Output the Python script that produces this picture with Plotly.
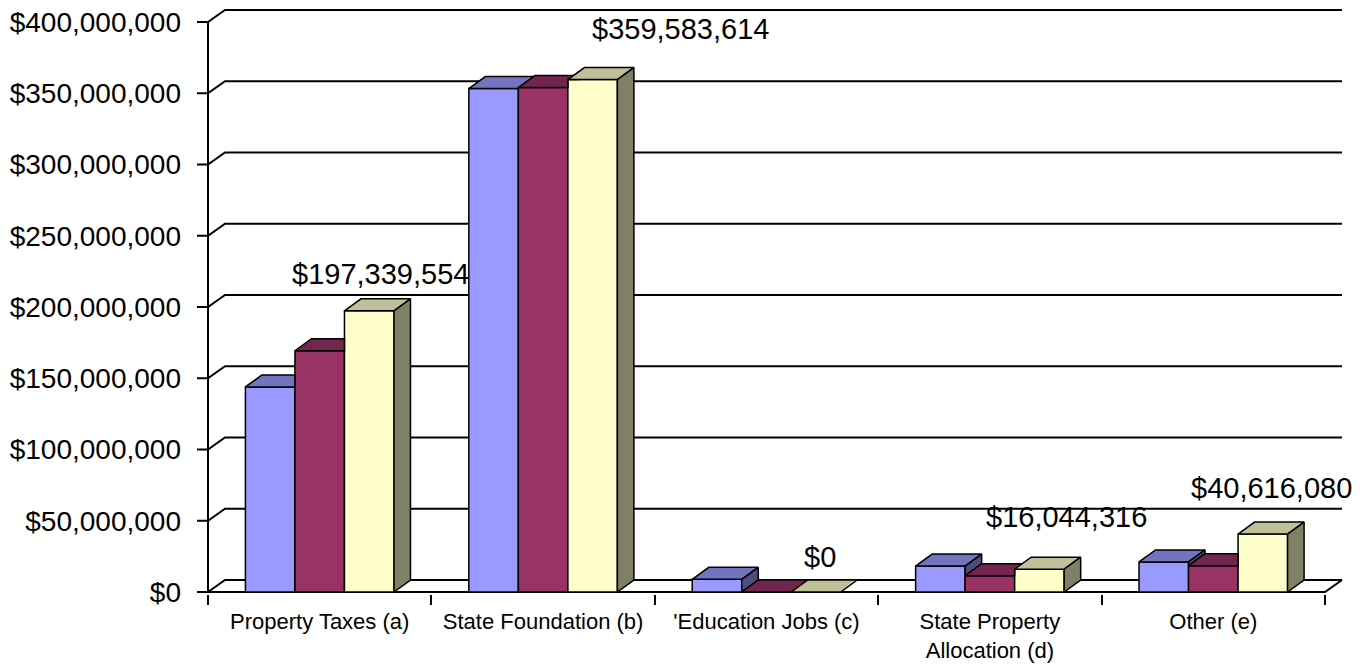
import plotly.graph_objects as go

# ---------------- data ----------------
categories = ["Property Taxes (a)", "State Foundation (b)", "'Education Jobs (c)",
              "State Property<br>Allocation (d)", "Other (e)"]
series_1 = [143_900_000, 353_300_000, 8_900_000, 18_200_000, 21_100_000]
series_2 = [169_300_000, 354_000_000, 0, 11_400_000, 18_500_000]
series_3 = [197_339_554, 359_583_614, 0, 16_044_316, 40_616_080]
y_tick_values = [0, 50_000_000, 100_000_000, 150_000_000, 200_000_000,
                 250_000_000, 300_000_000, 350_000_000, 400_000_000]
y_tick_labels = ["$0", "$50,000,000", "$100,000,000", "$150,000,000", "$200,000,000",
                 "$250,000,000", "$300,000,000", "$350,000,000", "$400,000,000"]

# ---------------- style ----------------
FONT = "Liberation Sans, Arial, sans-serif"
front_colors = ["#9999FF", "#993366", "#FFFFCC"]
top_colors = ["#7373BF", "#73264D", "#BFBF99"]
side_colors = ["#4D4D80", "#4D1933", "#808066"]
label_dx = [11, 88, 4, 27, 9]      # px shifts of the data labels
label_dy = [37, 51, 35, 52, 46]

W, H = 1370, 664
L, R, T, B = 196, 1346, 8, 594          # plot area in px
PX_CAT = 223.4                          # px per category
PX_VAL = 570 / 400_000_000              # px per dollar
x0 = -0.5 - (208 - L) / PX_CAT
x1 = x0 + (R - L) / PX_CAT
y0 = -(B - 592) / PX_VAL
y1 = y0 + (B - T) / PX_VAL

BDX, BDY = 16.5 / PX_CAT, 12 / PX_VAL   # bar depth
WDX, WDY = 17 / PX_CAT, 12 / PX_VAL     # wall depth
TICK = 11 / PX_CAT
BARGAP = 0.335
n = len(categories)
nser = 3
bw = (1 - BARGAP) / nser

series = [series_1, series_2, series_3]

fig = go.Figure()

# bar fronts
for j, s in enumerate(series):
    fig.add_trace(go.Bar(
        x=list(range(n)), y=s,
        marker=dict(color=front_colors[j], line=dict(color="black", width=1.5)),
        showlegend=False, hoverinfo="skip"))

# 3D top and side faces (visible parts only)
for j, s in enumerate(series):
    tx, ty, sx, sy = [], [], [], []
    for i in range(n):
        l = i - (1 - BARGAP) / 2 + j * bw
        r = l + bw
        t = s[i]
        tn = series[j + 1][i] if j + 1 < nser else 0
        # top face
        k = min(max((tn - t) / BDY, 0), 1) if j + 1 < nser else 0
        if k >= 1:
            pts = [(l, t), (r, t), (r, t + BDY), (l + BDX, t + BDY), (l, t)]
        elif k > 0:
            pts = [(l, t), (r, t), (r, t + k * BDY), (r + k * BDX, t + k * BDY),
                   (r + BDX, t + BDY), (l + BDX, t + BDY), (l, t)]
        else:
            pts = [(l, t), (r, t), (r + BDX, t + BDY), (l + BDX, t + BDY), (l, t)]
        for p in pts:
            tx.append(p[0]); ty.append(p[1])
        tx.append(None); ty.append(None)
        # side face
        if t > tn:
            pts = [(r, tn), (r + BDX, tn + BDY), (r + BDX, t + BDY), (r, t), (r, tn)]
            for p in pts:
                sx.append(p[0]); sy.append(p[1])
            sx.append(None); sy.append(None)
    fig.add_trace(go.Scatter(x=tx, y=ty, mode="lines", fill="toself",
                             fillcolor=top_colors[j], line=dict(color="black", width=1.5),
                             showlegend=False, hoverinfo="skip"))
    if sx:
        fig.add_trace(go.Scatter(x=sx, y=sy, mode="lines", fill="toself",
                                 fillcolor=side_colors[j], line=dict(color="black", width=1.5),
                                 showlegend=False, hoverinfo="skip"))

# walls / gridlines / floor
shapes = []
for v in y_tick_values:
    shapes.append(dict(type="path", xref="x", yref="y", layer="below",
                       path=f"M {-0.5 - TICK},{v} L -0.5,{v} L {-0.5 + WDX},{v + WDY} L {n - 0.5 + WDX},{v + WDY}",
                       line=dict(color="black", width=2)))
shapes.append(dict(type="path", xref="x", yref="y", layer="below",
                   path=f"M -0.5,0 L -0.5,{y_tick_values[-1]}",
                   line=dict(color="black", width=2)))
shapes.append(dict(type="path", xref="x", yref="y", layer="below",
                   path=f"M -0.5,0 L {n - 0.5},0 L {n - 0.5 + WDX},{WDY}",
                   line=dict(color="black", width=2)))

# data labels for third series
ycenter = -(1 - BARGAP) / 2 + 2.5 * bw
annotations = []
for i, v in enumerate(series_3):
    annotations.append(dict(x=i + ycenter, y=v, xref="x", yref="y",
                            text=f"${v:,.0f}", showarrow=False,
                            xshift=label_dx[i], yshift=label_dy[i],
                            xanchor="center", yanchor="middle",
                            font=dict(family=FONT, size=29, color="black")))

fig.update_layout(
    width=W, height=H,
    margin=dict(l=L, r=W - R, t=T, b=H - B, pad=0, autoexpand=False),
    paper_bgcolor="white", plot_bgcolor="white",
    barmode="group", bargap=BARGAP, bargroupgap=0,
    shapes=shapes, annotations=annotations,
    showlegend=False,
    xaxis=dict(range=[x0, x1], tickmode="array", tickvals=list(range(n)), ticktext=categories,
               ticks="", showgrid=False, zeroline=False, showline=False, automargin=False,
               tickfont=dict(family=FONT, size=22, color="black"),
               ticklabelstandoff=12,
               minor=dict(tickmode="array", tickvals=[i - 0.5 for i in range(n + 1)],
                          ticks="outside", ticklen=10, tickwidth=1.5, tickcolor="black")),
    yaxis=dict(range=[y0, y1], tickmode="array", tickvals=y_tick_values, ticktext=y_tick_labels,
               ticks="", showgrid=False, zeroline=False, showline=False, automargin=False,
               tickfont=dict(family=FONT, size=28, color="black"),
               ticklabelstandoff=14),
)

fig.write_html("out.html")
